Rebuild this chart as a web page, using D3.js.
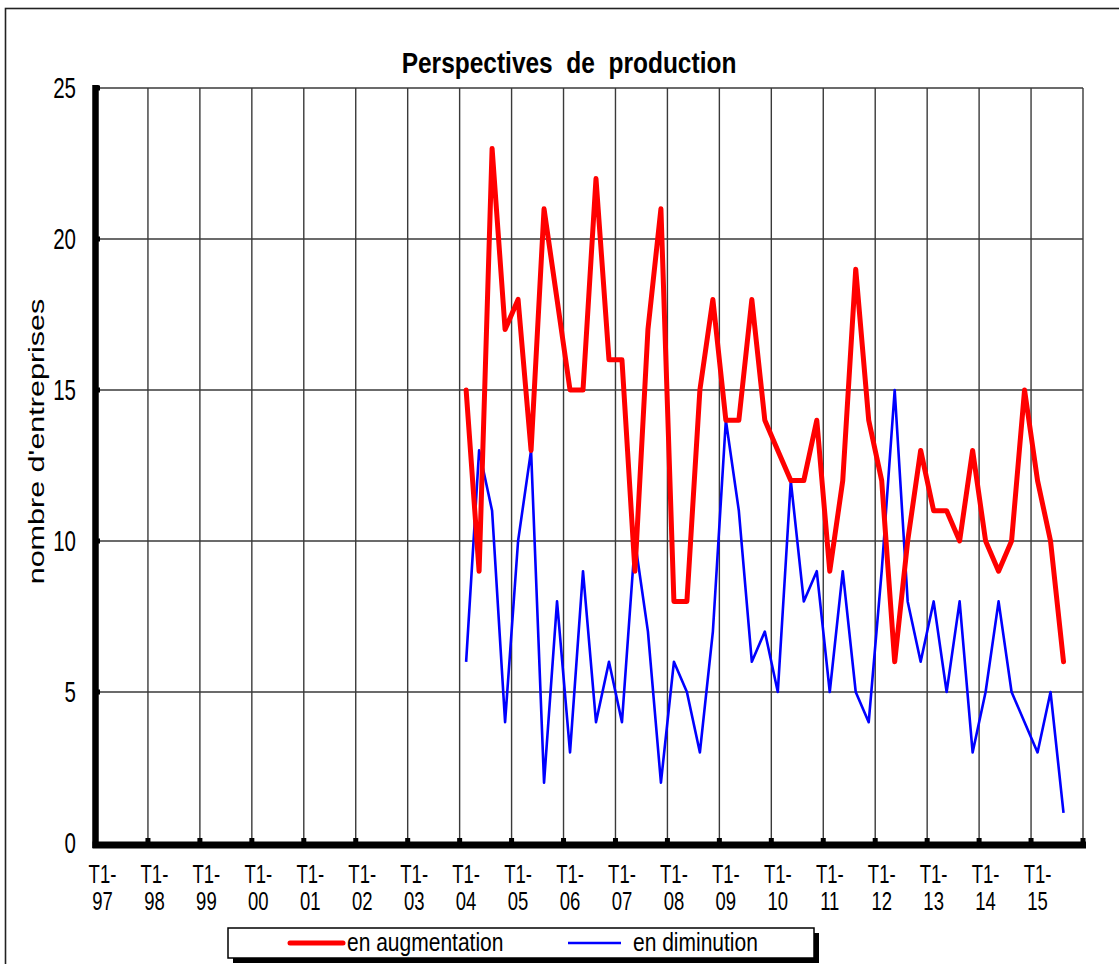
<!DOCTYPE html>
<html>
<head>
<meta charset="utf-8">
<script src="https://cdn.jsdelivr.net/npm/d3@7"></script>
<style>
  html, body { margin: 0; padding: 0; background: #fff; }
  svg { display: block; }
  text { font-family: "Liberation Sans", Arial, sans-serif; fill: #000; }
</style>
</head>
<body>
<svg id="chart" width="1119" height="964"></svg>
<script>
// ---- data ----
const years = ["97","98","99","00","01","02","03","04","05","06","07","08","09","10","11","12","13","14","15"];
const quarters = ["T1","T2","T3","T4"];
const seriesStart = "T1-04";
const enAugmentation = [15, 9, 23, 17, 18, 13, 21, 18, 15, 15, 22, 16, 16, 9, 17, 21,
  8, 8, 15, 18, 14, 14, 18, 14, 13, 12, 12, 14, 9, 12, 19, 14,
  12, 6, 10, 13, 11, 11, 10, 13, 10, 9, 10, 15, 12, 10, 6];
const enDiminution = [6, 13, 11, 4, 10, 13, 2, 8, 3, 9, 4, 6, 4, 10, 7, 2,
  6, 5, 3, 7, 14, 11, 6, 7, 5, 12, 8, 9, 5, 9, 5, 4,
  9, 15, 8, 6, 8, 5, 8, 3, 5, 8, 5, 4, 3, 5, 1];
const yTicks = [0, 5, 10, 15, 20, 25];
const titleText = "Perspectives  de  production";
const yLabel = "nombre d'entreprises";
const legendLabels = ["en augmentation", "en diminution"];

// ---- build ----
const categories = years.flatMap(y => quarters.map(q => q + "-" + y));
const startIdx = categories.indexOf(seriesStart);
const svg = d3.select("#chart");

const L = 96, R = 1083, T = 88, B = 843;
const x = d3.scaleBand().domain(categories).range([L, R]).paddingInner(0).paddingOuter(0);
const y = d3.scaleLinear().domain([0, 25]).range([B, T]);
const bw = x.bandwidth();

// outer frame
svg.append("rect").attr("x", 5.5).attr("y", 8.5).attr("width", 1130).attr("height", 980)
  .attr("fill", "none").attr("stroke", "#222").attr("stroke-width", 1.6);

// gridlines
const grid = svg.append("g").attr("stroke", "#3a3a3a").attr("stroke-width", 1.4);
yTicks.filter(v => v > 0).forEach(v => {
  grid.append("line").attr("x1", L).attr("x2", R).attr("y1", y(v)).attr("y2", y(v));
});
const boundaries = categories.filter((c, i) => i % 4 === 0 && i > 0).map(c => x(c)).concat([R]);
boundaries.forEach(bx => {
  grid.append("line").attr("x1", bx).attr("x2", bx).attr("y1", T).attr("y2", B);
});

// small tick squares
boundaries.forEach(bx => {
  svg.append("rect").attr("x", bx - 2.5).attr("y", B - 5).attr("width", 5).attr("height", 6).attr("fill", "#000");
});
yTicks.filter(v => v > 0).forEach(v => {
  svg.append("rect").attr("x", L).attr("y", y(v) - 2.5).attr("width", 4).attr("height", 5).attr("fill", "#000");
});

// axis lines (thick)
svg.append("line").attr("x1", L - 0.5).attr("x2", L - 0.5).attr("y1", T - 3).attr("y2", B + 5)
  .attr("stroke", "#000").attr("stroke-width", 6.5);
svg.append("line").attr("x1", L - 3.5).attr("x2", R + 3).attr("y1", B + 2).attr("y2", B + 2)
  .attr("stroke", "#000").attr("stroke-width", 7);

// y axis labels via d3 axis
const yAxis = svg.append("g").attr("transform", `translate(${L},0)`)
  .call(d3.axisLeft(y).tickValues(yTicks).tickSize(0).tickPadding(0).tickFormat(d3.format("d")));
yAxis.select(".domain").remove();
yAxis.selectAll("text")
  .attr("x", -20).attr("dy", "0.34em")
  .attr("font-size", 20.5).attr("font-family", '"Liberation Sans", Arial, sans-serif')
  .attr("fill", "#000")
  .attr("transform", "scale(1,1.42)");

// x axis labels (two separate lines per tick)
const xTickVals = categories.filter(c => c.startsWith("T1-"));
const xAxis = svg.append("g").attr("transform", `translate(0,${B})`)
  .call(d3.axisBottom(x).tickValues(xTickVals).tickSize(0).tickPadding(0));
xAxis.select(".domain").remove();
xAxis.selectAll(".tick").each(function(d) {
  const g = d3.select(this);
  g.select("text").remove();
  const parts = d.split("-");
  g.append("text").attr("transform", "translate(0,40) scale(1,1.4)")
    .attr("font-size", 18.5).attr("text-anchor", "middle").attr("fill", "#000")
    .attr("font-family", '"Liberation Sans", Arial, sans-serif')
    .text(parts[0] + "-");
  g.append("text").attr("transform", "translate(0,67) scale(1,1.4)")
    .attr("font-size", 18.5).attr("text-anchor", "middle").attr("fill", "#000")
    .attr("font-family", '"Liberation Sans", Arial, sans-serif')
    .text(parts[1]);
});

// lines
const px = i => x(categories[startIdx + i]) + bw / 2;
const lineGen = d3.line().x((d, i) => px(i)).y(d => y(d));
svg.append("path").datum(enDiminution).attr("d", lineGen)
  .attr("fill", "none").attr("stroke", "#0000ff").attr("stroke-width", 2.6)
  .attr("stroke-linejoin", "round");
svg.append("path").datum(enAugmentation).attr("d", lineGen)
  .attr("fill", "none").attr("stroke", "#ff0000").attr("stroke-width", 5)
  .attr("stroke-linejoin", "round").attr("stroke-linecap", "round");

// title
svg.append("text").attr("transform", "translate(569,73) scale(1,1.24)")
  .attr("text-anchor", "middle").attr("font-size", 24.5).attr("font-weight", "bold")
  .style("white-space", "pre").text(titleText);

// y label
svg.append("text").attr("transform", "translate(43.5,441.5) rotate(-90) scale(1.42,1)")
  .attr("text-anchor", "middle").attr("font-size", 21.5).text(yLabel);

// legend
const lg = svg.append("g");
lg.append("rect").attr("x", 233).attr("y", 933).attr("width", 586).attr("height", 30).attr("fill", "#000");
lg.append("rect").attr("x", 228).attr("y", 928).attr("width", 586).attr("height", 30)
  .attr("fill", "#fff").attr("stroke", "#000").attr("stroke-width", 1.5);
lg.append("line").attr("x1", 290).attr("x2", 343).attr("y1", 943).attr("y2", 943)
  .attr("stroke", "#ff0000").attr("stroke-width", 5).attr("stroke-linecap", "round");
lg.append("text").attr("transform", "translate(347,951) scale(1,1.25)")
  .attr("font-size", 21).text(legendLabels[0]);
lg.append("line").attr("x1", 568).attr("x2", 621).attr("y1", 943).attr("y2", 943)
  .attr("stroke", "#0000ff").attr("stroke-width", 2.6);
lg.append("text").attr("transform", "translate(633,951) scale(1,1.25)")
  .attr("font-size", 21).text(legendLabels[1]);
</script>
</body>
</html>
